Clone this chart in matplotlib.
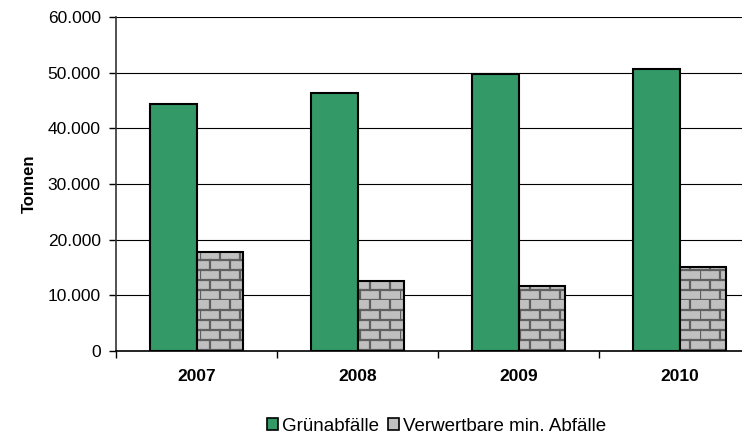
import warnings
import numpy as np
import matplotlib
matplotlib.use("Agg")
from matplotlib import pyplot as plt
from matplotlib import hatch as mhatch
from matplotlib.path import Path
from matplotlib.patches import Patch
from matplotlib.ticker import FuncFormatter, MultipleLocator, FixedLocator

warnings.filterwarnings("ignore")

years = ["2007", "2008", "2009", "2010"]
gruen = [44300, 46300, 49800, 50700]
mineral = [17800, 12500, 11700, 15100]
series_labels = ["Grünabfälle", "Verwertbare min. Abfälle"]

GREEN = "#339966"
GREY = "#c0c0c0"
MORTAR = "#5f5f5f"


class BrickHatch(mhatch.HatchPatternBase):
    """ Brick wall hatch, selected with the character 'b' """

    def __init__(self, hatch, density):
        self.n = hatch.count("b")
        self.num_vertices = (2 * self.n + 2 * self.n * self.n) * 2

    def set_vertices_and_codes(self, vertices, codes):
        n = self.n
        s = 1.0 / n
        segs = []
        for r in range(2 * n):
            y0 = r * s / 2
            segs.append(((0, y0), (1, y0)))
            off = (r % 2) * s / 2
            for i in range(n):
                x = off + i * s
                segs.append(((x, y0), (x, y0 + s / 2)))
        vertices[:] = np.array(segs).reshape(-1, 2)
        codes[0::2] = Path.MOVETO
        codes[1::2] = Path.LINETO


mhatch._hatch_types.append(BrickHatch)

plt.rcParams["font.family"] = ["Liberation Sans", "DejaVu Sans"]
plt.rcParams["hatch.linewidth"] = 1.6

fig = plt.figure(figsize=(7.42, 4.38), dpi=100)
ax = fig.add_axes([116 / 742, 1 - 351 / 438, 1 - 116 / 742, (351 - 17) / 438])

x = np.arange(len(years))
w = 0.286
ax.bar(x - w / 2, gruen, w, color=GREEN, edgecolor="black", linewidth=1.5, zorder=3)
ax.bar(x + w / 2, mineral, w, color=GREY, edgecolor=MORTAR, linewidth=0,
       hatch="bbbbb", zorder=3)
ax.bar(x + w / 2, mineral, w, fill=False, edgecolor="black", linewidth=1.5, zorder=4)

ax.set_xlim(-0.5, (742 - 116) / 161 - 0.5)
ax.set_ylim(0, 60000)
ax.yaxis.set_major_locator(MultipleLocator(10000))
ax.yaxis.set_major_formatter(FuncFormatter(lambda v, p: f"{int(v):,}".replace(",", ".")))
ax.grid(axis="y", color="black", linewidth=0.8, zorder=0)
ax.set_axisbelow(True)

ax.xaxis.set_major_locator(FixedLocator(np.arange(-0.5, 4, 1)))
ax.xaxis.set_major_formatter(FuncFormatter(lambda v, p: ""))
ax.xaxis.set_minor_locator(FixedLocator(x))
ax.set_xticklabels(years, minor=True, fontsize=12.5, fontweight="bold")
ax.tick_params(axis="x", which="major", direction="out", length=5, width=1)
ax.tick_params(axis="x", which="minor", length=0, pad=13)
ax.tick_params(axis="y", direction="out", length=5, width=1, labelsize=12.5, pad=6)

for side in ["top", "right"]:
    ax.spines[side].set_visible(False)
ax.spines["left"].set_color("#333333")
ax.spines["left"].set_linewidth(1.2)
ax.spines["bottom"].set_linewidth(1.2)

ax.set_ylabel("Tonnen", fontsize=12, fontweight="bold", labelpad=8)

handles = [
    Patch(facecolor=GREEN, edgecolor="black", linewidth=1.2),
    Patch(facecolor=GREY, edgecolor="black", linewidth=1.2),
]
fig.legend(handles, series_labels, loc="center", bbox_to_anchor=(0.588, 0.027),
           ncol=2, frameon=False, fontsize=13.5, handlelength=0.6, handleheight=0.6,
           handletextpad=0.2, columnspacing=0.5, borderpad=0)

fig.savefig("out.png", dpi=100)
